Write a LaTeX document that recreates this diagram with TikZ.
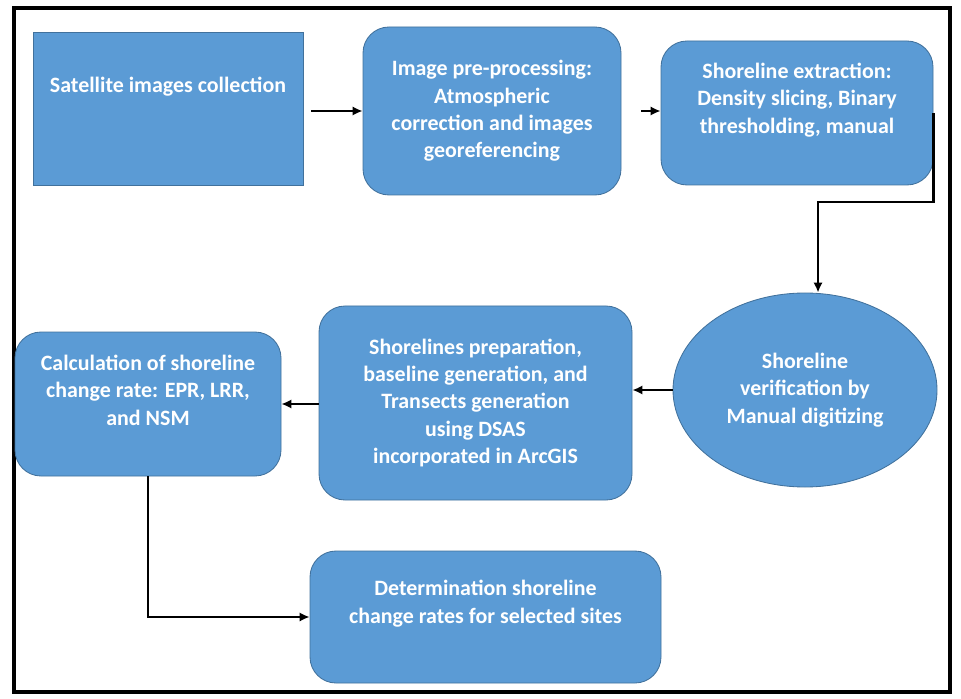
\documentclass[tikz,border=0pt]{standalone}
\usepackage{fontspec}
\setmainfont{Carlito}
\usepackage{xcolor}
\definecolor{boxblue}{HTML}{5B9BD5}
\definecolor{boxline}{HTML}{41719C}
\usepackage{tikz}
\usetikzlibrary{
  arrows.meta,
  positioning,
  shapes.geometric,
  calc
}

\begin{document}
\begin{tikzpicture}[
  box/.style={
    draw=boxline, fill=boxblue, line width=0.6pt, inner sep=0pt
  },
  rbox/.style={box, rounded corners=0.65cm},
  txt/.style={
    text=white, align=center, inner sep=0pt,
    font=\fontsize{15.6}{19.5}\selectfont\bfseries
  },
  arr/.style={line width=1.6pt, -{Latex[length=7pt,width=6.5pt]}}
]
\useasboundingbox (0,0) rectangle (24.025,-17.475);
\draw[line width=0.1cm] (0.36,-0.19) rectangle (23.75,-17.3);

% top row
\node[box, minimum width=6.75cm, minimum height=3.825cm] (sat) at (4.2,-2.7125) {};
\node[txt] (satT) at ([yshift=0.54cm]sat.center) {Satellite images collection};

\node[rbox, txt, minimum width=6.45cm, minimum height=4.2cm] (pre) at (12.3,-2.775) {%
  Image pre-processing:\\ Atmospheric\\ correction and images\\ georeferencing};

\node[rbox, minimum width=6.8cm, minimum height=3.6cm] (ext) at (19.925,-2.825) {};
\node[txt] (extT) at ([yshift=0.33cm]ext.center) {%
  Shoreline extraction:\\ Density slicing, Binary\\ thresholding, manual};

% middle row
\node[box, ellipse, txt, minimum width=6.6cm, minimum height=4.85cm] (ver) at (20.125,-9.75) {%
  Shoreline\\ verification by\\ Manual digitizing};

\node[rbox, txt, minimum width=7.825cm, minimum height=4.85cm] (prep) at (11.8875,-10.075) {%
  Shorelines preparation,\\ baseline generation, and\\ Transects generation\\
  using DSAS\\ incorporated in ArcGIS};

\node[rbox, minimum width=6.65cm, minimum height=3.6cm] (calc) at (3.7,-10.1) {};
\node[txt] (calcT) at ([yshift=0.35cm]calc.center) {%
  Calculation of shoreline\\ change rate: EPR, LRR,\\ and NSM};

% bottom row
\node[rbox, minimum width=8.775cm, minimum height=3.3cm] (det) at (12.1375,-15.425) {};
\node[txt] (detT) at ([yshift=0.33cm]det.center) {%
  Determination shoreline\\ change rates for selected sites};

% connectors
\draw[arr, shorten <=0.2cm] (sat.east |- pre.west) -- (pre.west);
\draw[arr, shorten <=0.5cm] (pre.east) -- (pre.east -| ext.west);
\draw[arr] (ext.east) -- ++(0,-2.225) -| ([xshift=0.325cm]ver.north);
\draw[arr] (ver.west) -- (ver.west -| prep.east);
\draw[arr] (prep.west |- calc.east) -- (calc.east);
\draw[arr] (calc.south) |- (det.west);
\end{tikzpicture}
\end{document}
